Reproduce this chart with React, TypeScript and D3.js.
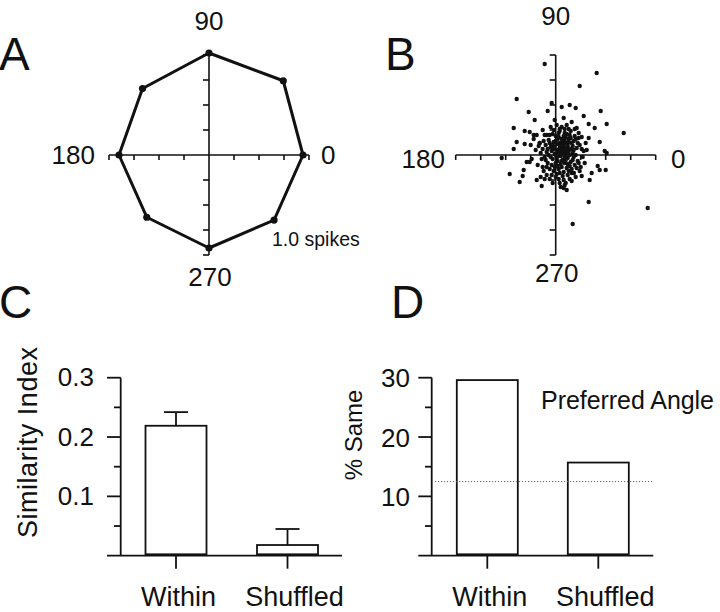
import React from "react";
import * as d3 from "d3";

// ---------- Panel A: tuning polygon ----------
const tuningAngles = [0, 45, 90, 135, 180, 225, 270, 315];
const tuningSpikes = [0.94, 1.05, 1.02, 0.94, 0.9, 0.88, 0.93, 0.92];
const polarAxisTicks = [-1, -0.75, -0.5, -0.25, 0.25, 0.5, 0.75, 1];
const polarLabels = ["0", "90", "180", "270"];

// ---------- Panel B: preferred-vector scatter (x, y in axis units) ----------
const scatterOuter: [number, number][] = [
  [-0.11, 0.91], [0.41, 0.82], [0.24, 0.69], [-0.39, 0.56], [-0.27, 0.43], [-0.04, 0.52],
  [0.06, 0.48], [0.14, 0.5], [0.2, 0.47], [0.45, 0.44], [0.51, 0.31], [0.68, 0.22],
  [-0.42, 0.27], [-0.31, 0.24], [-0.21, 0.35], [-0.08, 0.44], [-0.39, 0.13], [-0.31, 0.11],
  [0.44, 0.13], [0.49, 0.04], [0.51, 0.02], [0.39, 0.27], [0.33, 0.31], [0.28, 0.39],
  [-0.54, -0.03], [-0.46, -0.19], [-0.36, -0.27], [-0.33, -0.21], [-0.32, -0.15], [-0.14, -0.31],
  [-0.19, -0.25], [0.08, -0.33], [0.11, -0.35], [0.26, -0.21], [0.34, -0.25], [0.36, -0.18],
  [0.42, -0.11], [0.44, -0.15], [0.5, -0.15], [0.33, -0.47], [0.92, -0.53], [0.17, -0.69],
  [-0.42, 0.06], [-0.29, -0.07], [-0.26, -0.07], [-0.04, -0.2], [0.04, -0.28], [0.09, -0.3],
  [0.18, -0.18], [0.23, -0.08], [0.31, 0.05], [0.33, 0.17], [0.23, 0.17], [0.21, 0.27],
  [0.16, 0.33], [0.08, 0.37], [-0.01, 0.35], [-0.13, 0.25], [-0.22, 0.2], [-0.26, 0.23],
  [-0.16, 0.12], [-0.09, 0.2],
];
const scatterCore: [number, number][] = [
  [0.02, 0.05], [0.05, 0.08], [0.08, 0.02], [-0.03, 0.1], [0.1, 0.12], [0.12, -0.03], [-0.05, -0.02], [0.0, -0.08], [0.06, -0.12], [0.15, 0.06],
  [0.18, 0.14], [-0.08, 0.06], [-0.1, -0.05], [0.03, 0.18], [0.09, 0.22], [-0.02, 0.25], [0.14, 0.2], [0.2, 0.0], [0.22, -0.06], [0.16, -0.14],
  [0.04, -0.18], [-0.06, -0.14], [-0.12, 0.14], [-0.15, 0.02], [-0.18, -0.1], [0.11, 0.07], [0.07, -0.05], [-0.01, 0.01], [0.01, -0.03], [0.04, 0.12],
  [0.13, 0.16], [0.17, 0.09], [0.24, 0.1], [0.26, 0.18], [0.19, -0.1], [0.12, -0.2], [0.0, -0.22], [-0.09, -0.2], [-0.13, -0.12], [-0.2, 0.05],
  [-0.22, 0.16], [-0.06, 0.2], [0.06, 0.28], [0.11, 0.3], [0.19, 0.26], [0.28, 0.04], [0.25, -0.12], [0.08, -0.25], [-0.03, -0.28], [-0.11, -0.24],
  [0.03, 0.02], [0.05, -0.01], [0.08, 0.09], [-0.04, 0.04], [0.0, 0.14], [0.1, 0.0], [0.13, 0.04], [0.02, -0.11], [0.09, -0.08], [-0.07, 0.0],
  [0.15, -0.07], [0.21, 0.07], [-0.02, -0.16], [0.06, 0.16], [0.16, 0.12], [-0.1, 0.1], [-0.14, -0.04], [0.07, 0.05], [0.11, -0.13], [0.03, 0.22],
  [0.23, 0.22], [0.27, -0.02], [-0.17, 0.09], [-0.05, 0.28], [0.14, -0.24], [0.18, -0.18], [0.01, 0.3], [-0.08, -0.08], [0.04, 0.07], [0.12, 0.1],
  [0.09, 0.15], [-0.01, 0.08], [0.06, 0.01], [0.02, -0.06], [0.17, 0.02], [0.2, 0.16], [-0.12, -0.16], [-0.24, -0.04], [-0.19, 0.2], [0.3, 0.12],
  [0.29, -0.08], [0.13, 0.26], [-0.07, 0.15], [0.1, -0.28], [0.05, -0.32], [0.16, -0.26], [-0.15, -0.22], [-0.25, 0.1], [0.01, 0.11], [0.08, -0.17],
  [0.14, 0.0], [-0.03, -0.04], [0.05, 0.04], [0.07, 0.11], [0.11, 0.03], [-0.04, -0.1], [0.03, -0.14], [0.1, 0.18], [0.18, -0.02], [0.22, 0.12],
  [-0.09, 0.03], [-0.11, 0.2], [0.0, 0.19], [0.15, 0.24], [0.24, -0.16], [0.09, 0.26], [-0.16, 0.12], [0.2, -0.22], [-0.06, -0.24], [0.04, 0.26],
  [0.12, -0.09], [0.01, 0.04], [0.06, -0.06], [0.13, 0.13], [-0.02, 0.13], [0.17, -0.05], [0.08, 0.06], [0.03, -0.01], [-0.05, 0.08], [0.1, 0.05],
  [0.04, 0.1], [0.07, 0.14], [0.12, 0.08], [-0.02, 0.06], [0.0, 0.0], [0.09, -0.02], [0.14, -0.11], [0.05, -0.09], [-0.06, 0.12], [0.02, 0.16],
  [0.18, 0.05], [0.11, 0.21], [-0.09, -0.12], [0.07, -0.21], [0.15, 0.17], [-0.13, 0.06], [0.21, -0.13], [0.03, -0.24], [0.26, 0.06], [-0.03, 0.21],
  [0.08, 0.19], [0.16, -0.18], [-0.11, -0.02], [0.19, 0.19], [0.01, -0.19], [0.06, 0.1], [0.1, -0.05], [-0.01, -0.12], [0.13, -0.16], [0.04, 0.24],
];

// ---------- Panel C: similarity index ----------
const barCategories = ["Within", "Shuffled"];
const similarityValues = [0.219, 0.018];
const similarityErrors = [0.023, 0.027];
const similarityTicksMajor = [0.1, 0.2, 0.3];
const similarityTicksMinor = [0.05, 0.15, 0.25];

// ---------- Panel D: % same preferred angle ----------
const sameValues = [29.6, 15.7];
const chanceLevel = 12.5;
const sameTicksMajor = [10, 20, 30];
const sameTicksMinor = [5, 15, 25];

const FONT = "'Liberation Sans', Arial, Helvetica, sans-serif";
const INK = "#111";

function PolarAxes({ cx, cy, r }: { cx: number; cy: number; r: number }) {
  const s = d3.scaleLinear().domain([-1, 1]).range([-r, r]);
  return (
    <g stroke={INK} strokeWidth={1.6} fill="none">
      <line x1={cx + s(-1)} x2={cx + s(1)} y1={cy} y2={cy} />
      <line x1={cx} x2={cx} y1={cy - s(1)} y2={cy - s(-1)} />
      {polarAxisTicks.map((t) => (
        <line key={"h" + t} x1={cx + s(t)} x2={cx + s(t)} y1={cy} y2={cy + 5} />
      ))}
      {polarAxisTicks.map((t) => (
        <line key={"v" + t} x1={cx - 6} x2={cx} y1={cy - s(t)} y2={cy - s(t)} />
      ))}
    </g>
  );
}

export default function App() {
  // Panel A
  const aCx = 209, aCy = 155;
  const rA = d3.scaleLinear().domain([0, 1]).range([0, 100]);
  const polyPts: [number, number][] = tuningAngles.map((a, i) => {
    const th = (a * Math.PI) / 180;
    return [aCx + rA(tuningSpikes[i]) * Math.cos(th), aCy - rA(tuningSpikes[i]) * Math.sin(th)];
  });
  const polyPath = d3.line().curve(d3.curveLinearClosed)(polyPts) || "";

  // Panel B
  const bCx = 555.7, bCy = 155;
  const xB = d3.scaleLinear().domain([-1, 1]).range([bCx - 100, bCx + 100]);
  const yB = d3.scaleLinear().domain([-1, 1]).range([bCy + 100, bCy - 100]);
  const scatter = [...scatterOuter, ...scatterCore];

  // Panel C
  const yC = d3.scaleLinear().domain([0, 0.3]).range([555.7, 377.7]);
  const xC = d3.scalePoint<string>().domain(barCategories).range([176, 287.5]);
  const cAxisX = 120.7;
  const barW = 61;

  // Panel D
  const yD = d3.scaleLinear().domain([0, 30]).range([555.7, 377.7]);
  const xD = d3.scalePoint<string>().domain(barCategories).range([487.3, 598.3]);
  const dAxisX = 431.7;

  const catLabelShift: Record<string, number> = { Within: 2.5, Shuffled: 7 };

  const polarLabelPos = (cx: number, topY: number, leftX: number, rightX: number, midY: number, botY: number) => [
    { t: polarLabels[0], x: rightX, y: midY, a: "start" },
    { t: polarLabels[1], x: cx, y: topY, a: "middle" },
    { t: polarLabels[2], x: leftX, y: midY, a: "end" },
    { t: polarLabels[3], x: cx + 1, y: botY, a: "middle" },
  ];

  return (
    <svg
      width={720}
      height={612}
      viewBox="0 0 720 612"
      style={{ position: "absolute", left: 0, top: 0, background: "#fff" }}
      fontFamily={FONT}
    >
      <rect x={0} y={0} width={720} height={612} fill="#fff" />
      {/* Panel letters */}
      <g fontSize={46} fill={INK}>
        <text x={-1} y={70}>A</text>
        <text x={385} y={70}>B</text>
        <text x={-1} y={318}>C</text>
        <text x={391} y={318}>D</text>
      </g>

      {/* Panel A */}
      <PolarAxes cx={aCx} cy={aCy} r={100} />
      <path d={polyPath} fill="none" stroke={INK} strokeWidth={3} strokeLinejoin="round" />
      {polyPts.map((p, i) => (
        <circle key={i} cx={p[0]} cy={p[1]} r={3.6} fill={INK} />
      ))}
      <g fontSize={26} fill={INK}>
        {polarLabelPos(aCx, 30, 95, 321, 164, 286).map((l) => (
          <text key={l.t} x={l.x} y={l.y} textAnchor={l.a as any}>{l.t}</text>
        ))}
      </g>
      <text x={272} y={246} fontSize={19.5} fill={INK}>1.0 spikes</text>

      {/* Panel B */}
      <PolarAxes cx={bCx} cy={bCy} r={100} />
      {scatter.map((p, i) => (
        <circle key={i} cx={xB(p[0])} cy={yB(p[1])} r={2.2} fill={INK} />
      ))}
      <g fontSize={26} fill={INK}>
        {polarLabelPos(bCx, 25, 445, 671, 168, 282).map((l) => (
          <text key={l.t} x={l.x} y={l.y} textAnchor={l.a as any}>{l.t}</text>
        ))}
      </g>

      {/* Panel C */}
      <g stroke={INK} strokeWidth={1.8} fill="none">
        <line x1={cAxisX} x2={cAxisX} y1={yC(0.3)} y2={yC(0)} />
        <line x1={107} x2={342} y1={yC(0)} y2={yC(0)} />
        {similarityTicksMajor.map((t) => (
          <line key={t} x1={107} x2={cAxisX} y1={yC(t)} y2={yC(t)} />
        ))}
        {similarityTicksMinor.map((t) => (
          <line key={t} x1={114} x2={cAxisX} y1={yC(t)} y2={yC(t)} />
        ))}
        {barCategories.map((c) => (
          <line key={c} x1={xC(c)!} x2={xC(c)!} y1={yC(0)} y2={yC(0) + 13} />
        ))}
        {barCategories.map((c, i) => {
          const x = xC(c)!;
          return (
            <g key={"b" + c}>
              <line x1={x} x2={x} y1={yC(similarityValues[i])} y2={yC(similarityValues[i] + similarityErrors[i])} />
              <line x1={x - 12} x2={x + 12} y1={yC(similarityValues[i] + similarityErrors[i])} y2={yC(similarityValues[i] + similarityErrors[i])} />
              <rect x={x - barW / 2} y={yC(similarityValues[i])} width={barW} height={yC(0) - 1.4 - yC(similarityValues[i])} fill="#fff" />
            </g>
          );
        })}
      </g>
      <g fontSize={26} fill={INK} textAnchor="end">
        {similarityTicksMajor.map((t) => (
          <text key={t} x={94} y={yC(t) + 8.5}>{d3.format(".1f")(t)}</text>
        ))}
      </g>
      <text
        transform={`translate(37,${442.5}) rotate(-90)`}
        textAnchor="middle"
        fontSize={27}
        fill={INK}
        textLength={191}
        lengthAdjust="spacing"
      >
        Similarity Index
      </text>
      <g fontSize={27} fill={INK} textAnchor="middle">
        {barCategories.map((c) => (
          <text key={c} x={xC(c)! + catLabelShift[c]} y={606}>{c}</text>
        ))}
      </g>

      {/* Panel D */}
      <g stroke={INK} strokeWidth={1.8} fill="none">
        <line x1={dAxisX} x2={dAxisX} y1={yD(30)} y2={yD(0)} />
        <line x1={418.3} x2={653.3} y1={yD(0)} y2={yD(0)} />
        {sameTicksMajor.map((t) => (
          <line key={t} x1={418.3} x2={dAxisX} y1={yD(t)} y2={yD(t)} />
        ))}
        {sameTicksMinor.map((t) => (
          <line key={t} x1={425} x2={dAxisX} y1={yD(t)} y2={yD(t)} />
        ))}
        {barCategories.map((c) => (
          <line key={c} x1={xD(c)!} x2={xD(c)!} y1={yD(0)} y2={yD(0) + 13} />
        ))}
        {barCategories.map((c, i) => {
          const x = xD(c)!;
          return (
            <rect key={"b" + c} x={x - barW / 2} y={yD(sameValues[i])} width={barW} height={yD(0) - 1.4 - yD(sameValues[i])} fill="#fff" />
          );
        })}
      </g>
      <line
        x1={435}
        x2={654}
        y1={yD(chanceLevel)}
        y2={yD(chanceLevel)}
        stroke="#666"
        strokeWidth={1}
        strokeDasharray="1.2,1.8"
      />
      <g fontSize={26} fill={INK} textAnchor="end">
        {sameTicksMajor.map((t) => (
          <text key={t} x={410} y={yD(t) + 9.5}>{t}</text>
        ))}
      </g>
      <text
        transform={`translate(362,${435}) rotate(-90)`}
        textAnchor="middle"
        fontSize={24}
        fill={INK}
      >
        % Same
      </text>
      <text x={541} y={409} fontSize={25} fill={INK} textLength={173} lengthAdjust="spacing">Preferred Angle</text>
      <g fontSize={27} fill={INK} textAnchor="middle">
        {barCategories.map((c) => (
          <text key={c} x={xD(c)! + catLabelShift[c]} y={606}>{c}</text>
        ))}
      </g>
    </svg>
  );
}
